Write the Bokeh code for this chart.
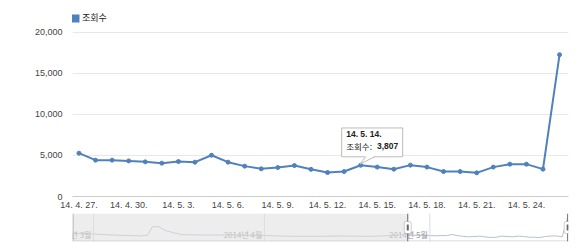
from bokeh.plotting import figure
from bokeh.models import (Range1d, FixedTicker, NumeralTickFormatter, Legend, LegendItem,
                          Span, BoxAnnotation)
from bokeh.layouts import column
from bokeh.embed import file_html
from bokeh.resources import INLINE
from bokeh.core.properties import value

# ---------------- data ----------------
series_name = "조회수"
# day index 0 = 2014-04-27 ... 29 = 2014-05-26
days = list(range(30))
views = [5280, 4430, 4430, 4340, 4220, 4060, 4260, 4180, 5030, 4180,
         3700, 3370, 3530, 3770, 3310, 2920, 3040, 3807, 3580, 3330,
         3820, 3580, 3040, 3040, 2880, 3580, 3940, 3940, 3330, 17275]
tick_days = [0, 3, 6, 9, 12, 15, 18, 21, 24, 27]
tick_labels = ["14. 4. 27.", "14. 4. 30.", "14. 5. 3.", "14. 5. 6.", "14. 5. 9.",
               "14. 5. 12.", "14. 5. 15.", "14. 5. 18.", "14. 5. 21.", "14. 5. 24."]
y_ticks = [0, 5000, 10000, 15000, 20000]

# overview (range navigator) values before 2014-04-27, as day offsets
nav_days_before = [-60.8, -57, -54, -51, -48.5, -47.2, -46.3, -45.2, -44, -42.5,
                   -41, -37, -32, -27, -22, -17, -12, -7, -3]
nav_vals_before = [5700, 5400, 4700, 4300, 4000, 4300, 10600, 10600, 7900, 6300,
                   4900, 4600, 4700, 4400, 3800, 3700, 3900, 3700, 4200]
month_days = [-57, -26, 4]
month_labels = ["2014년 3월", "2014년 4월", "2014년 5월"]
sel_start, sel_end = 0, 29

tip_index = 17
tip_date = "14. 5. 14."

# ---------------- styling constants ----------------
BLUE = "#4f81bd"
KR = "Noto Sans CJK KR"
LAT = "Liberation Sans"
NAN = float("nan")

X0, X1 = -0.39, 29.54
Y0 = 0
FW = 496
PXV = 165 / 20000            # 165 px for 0..20,000
TOP_PAD = 32                 # room above 20,000 for the legend
Y1 = 20000 + TOP_PAD / PXV
PXD = FW / (X1 - X0)

p = figure(width=585, height=212, x_range=Range1d(X0, X1), y_range=Range1d(Y0, Y1),
           output_backend="svg", toolbar_location=None,
           min_border_left=72, min_border_right=17, min_border_top=0, min_border_bottom=15,
           outline_line_color=None, background_fill_color="white", border_fill_color="white")

for ax in (p.xaxis, p.yaxis):
    ax.major_tick_out = 0
    ax.major_tick_in = 0
    ax.minor_tick_out = 0
    ax.minor_tick_in = 0
    ax.major_tick_line_color = None
    ax.minor_tick_line_color = None
    ax.major_label_text_font_size = "9px"
    ax.major_label_text_font = LAT
    ax.major_label_text_color = "#444444"

p.xaxis.ticker = FixedTicker(ticks=tick_days)
p.xaxis.major_label_overrides = {d: t for d, t in zip(tick_days, tick_labels)}
p.xaxis.axis_line_color = "#cccccc"
p.xaxis.major_label_standoff = 3

p.yaxis.ticker = FixedTicker(ticks=y_ticks)
p.yaxis.formatter = NumeralTickFormatter(format="0,0")
p.yaxis.axis_line_color = None
p.yaxis.major_label_standoff = 10

p.xgrid.visible = False
p.ygrid.ticker = FixedTicker(ticks=y_ticks[1:])
p.ygrid.grid_line_color = "#e8e8e8"

p.line(days, views, line_width=2, color=BLUE)
p.scatter(days, views, size=4, color=BLUE)

legend_r = p.quad(left=[NAN], right=[NAN], top=[NAN], bottom=[NAN],
                  fill_color=BLUE, fill_alpha=1, line_color=None)
legend = Legend(items=[LegendItem(label=series_name, renderers=[legend_r])],
                location=(-2, 172), orientation="horizontal", padding=0, margin=0,
                border_line_color=None, background_fill_alpha=0,
                glyph_width=10, glyph_height=10, label_standoff=2, label_height=12,
                label_text_font_size="9px", label_text_font=KR, label_text_color="#222222")
p.add_layout(legend)

# tooltip anchored to the highlighted point
tx, ty = days[tip_index], views[tip_index]
def ox(px):
    return tx + px / PXD
def oy(px):  # px upward
    return ty + px / PXV

p.quad(left=[ox(-19)], right=[ox(42)], top=[oy(37.5)], bottom=[oy(8.5)],
       fill_color="white", line_color="#bbbbbb", line_width=1, level="overlay")
p.patch([ox(5), ox(14), ox(-0.5)], [oy(9.3), oy(9.3), oy(1.2)],
        fill_color="white", line_color=None, level="overlay")
p.multi_line([[ox(5), ox(-0.5)], [ox(14), ox(-0.5)]], [[oy(8.5), oy(1.2)], [oy(8.5), oy(1.2)]],
             line_color="#bbbbbb", line_width=1, level="overlay")
p.text([ox(-14.5)], [oy(31.3)], text=[tip_date], text_font=value(LAT), text_font_style="bold",
       text_font_size="8.5px", text_color="#222222", text_baseline="middle", level="overlay")
p.text([ox(-14.5)], [oy(19.8)], text=[series_name + ":"], text_font=value(KR),
       text_font_size="8.5px", text_color="#222222", text_baseline="middle", level="overlay")
p.text([ox(16.3)], [oy(19.8)], text=[f"{ty:,}"], text_font=value(LAT), text_font_style="bold",
       text_font_size="8.5px", text_color="#222222", text_baseline="middle", level="overlay")

# ---------------- navigator ----------------
NX0, NX1 = -60.8, 29.15
NY0, NY1 = 0, 20000
NFW, NFH = 496, 28
NPXD = NFW / (NX1 - NX0)
NPXV = NFH / (NY1 - NY0)

n = figure(width=585, height=38, x_range=Range1d(NX0, NX1), y_range=Range1d(NY0, NY1),
           output_backend="svg", toolbar_location=None,
           x_axis_location=None, y_axis_location=None,
           min_border_left=72, min_border_right=17, min_border_top=1, min_border_bottom=9,
           outline_line_color=None, background_fill_color="white", border_fill_color="white")
n.grid.visible = False

n.line(nav_days_before + days, nav_vals_before + views, line_width=1, color="#b4c2d4")
n.text(month_days, [5000] * len(month_days), text=month_labels, text_align="right",
       text_baseline="middle", x_offset=-2, text_font=value(KR), text_font_size="8px",
       text_color="#9a9a9a")

for d in month_days:
    n.add_layout(Span(location=d, dimension="height", line_color="#dddddd", line_width=1))
n.add_layout(BoxAnnotation(left=NX0, right=sel_start, fill_color="#dedede", fill_alpha=0.55,
                           line_color=None))
n.add_layout(Span(location=NX0 + 0.5 / NPXD, dimension="height", line_color="#aaaaaa", line_width=1))
n.add_layout(Span(location=NY0 + 0.5 / NPXV, dimension="width", line_color="#d0d0d0", line_width=1))

for d in (sel_start, sel_end):
    n.add_layout(Span(location=d, dimension="height", line_color="#666666", line_width=1))
    n.add_layout(BoxAnnotation(left=d - 3.5 / NPXD, right=d + 3.5 / NPXD,
                               bottom=NY0 + 8 / NPXV, top=NY0 + 20 / NPXV,
                               fill_color="white", fill_alpha=1, line_color="#666666",
                               line_width=1, border_radius=2))
    n.add_layout(BoxAnnotation(left=d - 1 / NPXD, right=d + 1 / NPXD,
                               bottom=NY0 + 11 / NPXV, top=NY0 + 17 / NPXV,
                               fill_color="#666666", fill_alpha=1, line_color=None))

layout = column(p, n, spacing=0)
open("out.html", "w").write(file_html(layout, INLINE))
